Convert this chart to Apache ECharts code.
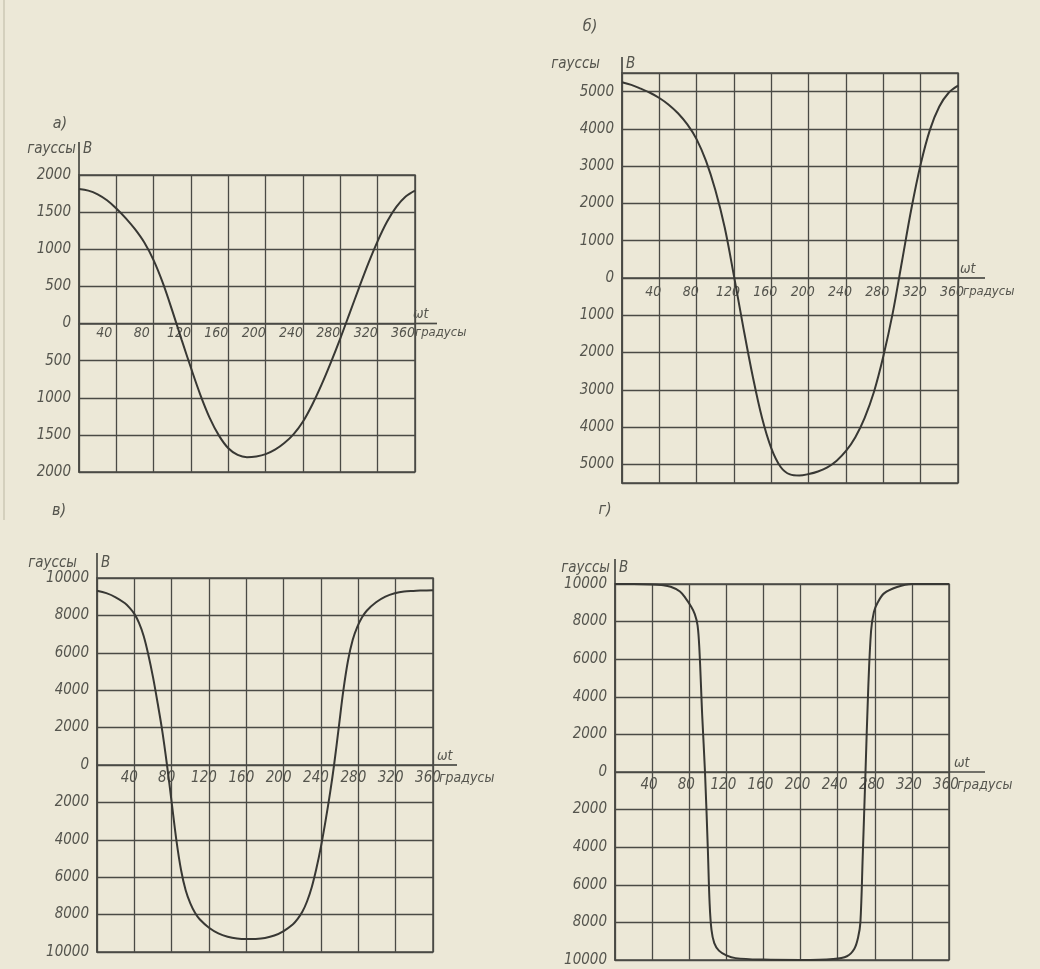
<!DOCTYPE html>
<html>
<head>
<meta charset="utf-8">
<script src="https://cdn.jsdelivr.net/npm/echarts@6/dist/echarts.min.js"></script>
<style>
html,body{margin:0;padding:0;background:#ece8d7;}
#c{width:1040px;height:969px;}
</style>
</head>
<body>
<div id="c"></div>
<script>
// ---------- data ----------
const xTickStep = 40;               // degrees between vertical grid lines
const xMax = 360;

// а) amplitude ~1800 gauss
const anglesA = [0,10,20,30,40,50,60,70,80,90,100,110,120,130,140,150,160,170,180,190,200,210,220,230,240,250,260,270,280,290,300,310,320,330,340,350,360];
const valuesA = [1810,1790,1740,1660,1550,1420,1270,1090,850,540,170,-220,-600,-960,-1270,-1510,-1680,-1770,-1800,-1790,-1760,-1700,-1610,-1490,-1320,-1090,-820,-520,-200,140,480,810,1110,1370,1570,1710,1790];

// б) amplitude ~5300 gauss
const anglesB = [0,10,20,30,40,50,60,70,80,90,100,110,120,130,140,150,160,170,180,190,200,210,220,230,240,250,260,270,280,290,300,310,320,330,340,350,360];
const valuesB = [5250,5180,5080,4970,4830,4650,4420,4120,3720,3140,2360,1360,50,-1330,-2630,-3750,-4570,-5070,-5270,-5300,-5260,-5190,-5080,-4900,-4640,-4270,-3750,-3050,-2100,-950,450,1850,3050,3980,4600,4970,5160];

// в) amplitude ~9300 gauss
const anglesV = [0,10,20,30,35,40,45,50,55,60,65,70,75,80,85,90,95,100,105,110,120,130,140,150,160,170,180,190,200,210,215,220,225,230,235,240,245,250,254,259,264,269,274,279,284,289,299,309,319,329,339,349,360];
const valuesV = [9320,9190,8970,8650,8400,8080,7600,6900,5900,4700,3300,1800,0,-2000,-4000,-5600,-6700,-7400,-7900,-8250,-8700,-9000,-9180,-9280,-9310,-9300,-9250,-9120,-8880,-8520,-8230,-7850,-7300,-6550,-5550,-4350,-2950,-1400,0,2000,4000,5600,6700,7400,7900,8250,8700,9000,9180,9280,9310,9330,9350];

// г) amplitude ~10000 gauss, nearly rectangular
const anglesG = [0,20,40,50,60,70,76,82,86,89,91,94,97,100,102,104,107,112,120,130,160,200,235,250,258,262,264.5,267,270,273,276,279,283,290,304,320,360];
const valuesG = [10000,10000,9980,9940,9850,9600,9250,8800,8400,7800,6500,3000,0,-4000,-7000,-8400,-9100,-9500,-9750,-9900,-9980,-10000,-9950,-9800,-9400,-8800,-8000,-4500,0,4500,7500,8500,9000,9500,9840,10000,10000];

// y-axis ranges / tick steps
const yRangeA = [-2000, 2000], yStepA = 500;
const yRangeB = [-5500, 5500], yStepB = 1000;
const yRangeV = [-10000, 10000], yStepV = 2000;
const yRangeG = [-10000, 10000], yStepG = 2000;

const panelLetters = ['а)', 'б)', 'в)', 'г)'];
const yUnit = 'гауссы', yName = 'B', xName = 'ωt', xUnit = 'градусы';

// ---------- layout / style ----------
const INK = '#4a4a45';
const TXT = '#55554e';
const YFONT = 'DejaVu Sans Condensed, DejaVu Sans, sans-serif';
const XFONT = 'Liberation Sans Narrow, DejaVu Sans Condensed, sans-serif';

const panels = [
  {angles:anglesA, values:valuesA, range:yRangeA, step:yStepA,
   left:79, top:175, width:336, height:297, xFont:14, shift:-12, xMargin:3,
   lx:60, ly:124, bDy:-26, uGap:3, ext:22, extUp:-33, gDx:0, wDx:-2},
  {angles:anglesB, values:valuesB, range:yRangeB, step:yStepB,
   left:622, top:73, width:336, height:410, xFont:14, shift:-6, xMargin:7,
   lx:590, ly:27, bDy:-9, uGap:22, ext:27, extUp:-16, gDx:5, wDx:2},
  {angles:anglesV, values:valuesV, range:yRangeV, step:yStepV,
   left:97, top:578, width:336, height:374, xFont:15, shift:-5, xMargin:6,
   lx:59, ly:511, bDy:-15, uGap:20, ext:24, extUp:-25, gDx:6, wDx:4},
  {angles:anglesG, values:valuesG, range:yRangeG, step:yStepG,
   left:615, top:584, width:334, height:376, xFont:15, shift:-3, xMargin:6,
   lx:605, ly:510, bDy:-16, uGap:5, ext:36, extUp:-25, gDx:8, wDx:5}
];

const chart = echarts.init(document.getElementById('c'));

const grids = [], xAxes = [], yAxes = [], series = [];
panels.forEach((p, i) => {
  grids.push({left:p.left, top:p.top, width:p.width, height:p.height,
    show:true, borderColor:INK, borderWidth:1.5, backgroundColor:'transparent'});
  // the ranges are symmetric, so the zero line sits half-way up the grid
  xAxes.push({
    type:'value', gridIndex:i, min:0, max:xMax, interval:xTickStep,
    position:'bottom', offset:-p.height/2,
    axisLine:{show:true, onZero:false, lineStyle:{color:INK, width:1.7}},
    axisTick:{show:false},
    splitLine:{show:true, lineStyle:{color:INK, width:1.3}},
    axisLabel:{
      show:true, margin:p.xMargin, color:TXT, fontStyle:'italic',
      fontFamily:XFONT, fontSize:p.xFont, align:'center',
      padding:[0, -2*p.shift, 0, 0],
      showMinLabel:false,
      formatter: v => (v === 0 ? '' : String(v))
    }
  });
  const y = {
    type:'value', gridIndex:i, min:p.range[0], max:p.range[1],
    axisLine:{show:true, onZero:false, lineStyle:{color:INK, width:1.7}},
    axisTick:{show:false},
    splitLine:{show:true, lineStyle:{color:INK, width:1.3}},
    axisLabel:{
      show:true, margin:8, color:TXT, fontStyle:'italic',
      fontFamily:YFONT, fontSize:15,
      formatter: v => (Math.round(v) % p.step === 0 ? String(Math.abs(Math.round(v))) : '')
    }
  };
  if (p.range[0] % p.step === 0) {
    y.interval = p.step;
  } else {
    y.minInterval = p.step; y.maxInterval = p.step; y.splitNumber = 10;
  }
  yAxes.push(y);
  series.push({
    type:'line', xAxisIndex:i, yAxisIndex:i, symbol:'none',
    smooth:0.35, clip:false,
    lineStyle:{color:'#383834', width:2},
    data: p.angles.map((a, k) => [a, p.values[k]])
  });
});

chart.setOption({
  backgroundColor:'#ece8d7',
  animation:false,
  grid:grids, xAxis:xAxes, yAxis:yAxes, series:series
});

// decorations positioned through the library's own coordinate conversion
const g = [];
g.push({type:'line', shape:{x1:4, y1:0, x2:4, y2:520}, style:{stroke:'#cdc8b4', lineWidth:1.5}});
panels.forEach((p, i) => {
  const pEnd = chart.convertToPixel({gridIndex:i}, [xMax, 0]);
  const pTop = chart.convertToPixel({gridIndex:i}, [0, p.range[1]]);
  g.push({type:'line', shape:{x1:pEnd[0], y1:pEnd[1], x2:pEnd[0]+p.ext, y2:pEnd[1]},
          style:{stroke:INK, lineWidth:1.7}});
  g.push({type:'line', shape:{x1:pTop[0], y1:pTop[1], x2:pTop[0], y2:pTop[1]+p.extUp},
          style:{stroke:INK, lineWidth:1.7}});
  g.push({type:'text', x:pEnd[0]+p.wDx, y:pEnd[1]-2,
          style:{text:xName, fill:TXT, font:'italic 14px ' + YFONT, align:'left', verticalAlign:'bottom'}});
  g.push({type:'text', x:pEnd[0]+p.gDx, y:pEnd[1]+p.xMargin,
          style:{text:xUnit, fill:TXT, font:'italic ' + (p.xFont-1) + 'px ' + XFONT, align:'left', verticalAlign:'top'}});
  g.push({type:'text', x:pTop[0]+4, y:pTop[1]+p.bDy,
          style:{text:yName, fill:TXT, font:'italic 15px ' + YFONT, align:'left', verticalAlign:'middle'}});
  g.push({type:'text', x:pTop[0]-p.uGap, y:pTop[1]+p.bDy,
          style:{text:yUnit, fill:TXT, font:'italic 15px ' + YFONT, align:'right', verticalAlign:'middle'}});
  g.push({type:'text', x:p.lx, y:p.ly,
          style:{text:panelLetters[i], fill:TXT, font:'italic 16px ' + YFONT, align:'center', verticalAlign:'middle'}});
});
chart.setOption({graphic:g});
</script>
</body>
</html>
